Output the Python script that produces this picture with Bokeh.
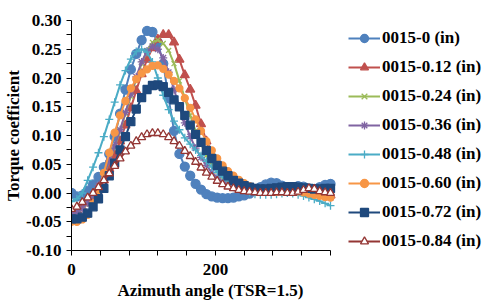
from bokeh.plotting import figure
from bokeh.models import (ColumnDataSource, FixedTicker, NumeralTickFormatter,
                          Legend, LegendItem, Range1d, Title)
from bokeh.embed import file_html
from bokeh.resources import INLINE

# Azimuth angle (deg)
azimuth = [i * 7.5 for i in range(49)]

series_names = ["0015-0 (in)", "0015-0.12 (in)", "0015-0.24 (in)", "0015-0.36 (in)",
                "0015-0.48 (in)", "0015-0.60 (in)", "0015-0.72 (in)", "0015-0.84 (in)"]

s_000 = [0.000, -0.006, -0.004, 0.004, 0.015, 0.028, 0.045, 0.068, 0.098, 0.138,
         0.180, 0.215, 0.242, 0.266, 0.282, 0.280, 0.262, 0.225, 0.165, 0.108,
         0.068, 0.046, 0.030, 0.016, 0.006, -0.002, -0.006, -0.008, -0.009, -0.009,
         -0.008, -0.006, -0.004, -0.001, 0.004, 0.010, 0.015, 0.018, 0.017, 0.013,
         0.010, 0.010, 0.012, 0.011, 0.008, 0.007, 0.010, 0.014, 0.016]
s_012 = [-0.030, -0.030, -0.026, -0.018, -0.008, 0.005, 0.022, 0.042, 0.065, 0.090,
         0.118, 0.148, 0.178, 0.207, 0.232, 0.252, 0.267, 0.275, 0.275, 0.262,
         0.232, 0.205, 0.180, 0.152, 0.120, 0.090, 0.065, 0.047, 0.034, 0.025,
         0.018, 0.012, 0.008, 0.005, 0.003, 0.002, 0.002, 0.002, 0.003, 0.004,
         0.005, 0.005, 0.004, 0.003, 0.002, 0.001, 0.000, -0.002, -0.004]
s_024 = [-0.035, -0.034, -0.028, -0.018, -0.005, 0.012, 0.032, 0.055, 0.080, 0.108,
         0.138, 0.168, 0.198, 0.225, 0.248, 0.262, 0.266, 0.260, 0.248, 0.225,
         0.195, 0.165, 0.135, 0.108, 0.085, 0.065, 0.050, 0.038, 0.028, 0.020,
         0.014, 0.010, 0.006, 0.004, 0.003, 0.002, 0.002, 0.003, 0.004, 0.005,
         0.005, 0.005, 0.004, 0.003, 0.001, 0.000, -0.002, -0.004, -0.006]
s_036 = [-0.035, -0.033, -0.027, -0.017, -0.004, 0.013, 0.033, 0.056, 0.082, 0.110,
         0.140, 0.172, 0.202, 0.228, 0.247, 0.255, 0.250, 0.235, 0.210, 0.180,
         0.150, 0.122, 0.098, 0.078, 0.062, 0.048, 0.036, 0.027, 0.020, 0.014,
         0.010, 0.007, 0.005, 0.003, 0.002, 0.002, 0.003, 0.004, 0.005, 0.006,
         0.006, 0.005, 0.004, 0.002, 0.000, -0.002, -0.004, -0.006, -0.008]
s_048 = [-0.015, -0.010, 0.000, 0.022, 0.045, 0.070, 0.098, 0.128, 0.158, 0.188,
         0.213, 0.233, 0.246, 0.250, 0.245, 0.228, 0.200, 0.170, 0.145, 0.125,
         0.110, 0.096, 0.085, 0.075, 0.065, 0.055, 0.045, 0.036, 0.028, 0.021,
         0.014, 0.009, 0.005, 0.001, -0.002, -0.003, -0.003, -0.003, -0.002, -0.001,
         0.000, -0.001, -0.003, -0.005, -0.008, -0.011, -0.014, -0.018, -0.022]
s_060 = [-0.050, -0.050, -0.046, -0.038, -0.018, 0.005, 0.035, 0.070, 0.105, 0.135,
         0.160, 0.182, 0.198, 0.208, 0.215, 0.221, 0.222, 0.216, 0.206, 0.195,
         0.182, 0.165, 0.148, 0.128, 0.108, 0.090, 0.074, 0.060, 0.048, 0.038,
         0.030, 0.023, 0.017, 0.012, 0.008, 0.005, 0.003, 0.002, 0.002, 0.003,
         0.004, 0.004, 0.003, 0.001, -0.001, -0.003, -0.005, -0.007, -0.008]
s_072 = [-0.045, -0.045, -0.042, -0.035, -0.024, -0.010, 0.008, 0.030, 0.052, 0.075,
         0.098, 0.124, 0.146, 0.166, 0.180, 0.187, 0.188, 0.185, 0.175, 0.162,
         0.150, 0.135, 0.118, 0.102, 0.088, 0.074, 0.060, 0.048, 0.038, 0.030,
         0.022, 0.017, 0.013, 0.010, 0.008, 0.007, 0.007, 0.008, 0.009, 0.010,
         0.011, 0.011, 0.010, 0.009, 0.008, 0.007, 0.007, 0.008, 0.008]
s_084 = [-0.028, -0.024, -0.016, -0.008, 0.000, 0.010, 0.022, 0.034, 0.047, 0.060,
         0.072, 0.082, 0.090, 0.097, 0.102, 0.104, 0.104, 0.102, 0.097, 0.090,
         0.082, 0.073, 0.064, 0.054, 0.044, 0.035, 0.028, 0.021, 0.015, 0.011,
         0.008, 0.005, 0.003, 0.002, 0.001, 0.000, 0.000, 0.000, 0.001, 0.001,
         0.000, 0.000, 0.002, 0.005, 0.008, 0.007, 0.003, 0.001, 0.000]

y_ticks = [-0.10, -0.05, 0.00, 0.05, 0.10, 0.15, 0.20, 0.25, 0.30]
y_minor = [-0.075, -0.025, 0.025, 0.075, 0.125, 0.175, 0.225, 0.275]
x_ticks = [0, 200]
x_minor = [40, 80, 120, 160, 240, 280, 320, 360]

FONT = "Liberation Serif"
FS = "17px"

# layout: plot area 259 px wide for 0..360 deg; frame extends right to host legend
W, H = 496, 302
LEFT, RIGHT, TOP = 71, 2, 20
FRAME_H = 230
BOTTOM = H - TOP - FRAME_H
frame_w = W - LEFT - RIGHT
x_end = 360 * frame_w / 259.0

p = figure(width=W, height=H, output_backend="svg", toolbar_location=None,
           x_range=Range1d(0, x_end), y_range=Range1d(-0.10, 0.30),
           min_border_left=LEFT, min_border_right=RIGHT, min_border_top=TOP,
           min_border_bottom=BOTTOM)
p.outline_line_color = None
p.xgrid.visible = False
p.ygrid.visible = False
p.background_fill_color = "white"
p.border_fill_color = "white"

for ax in (p.xaxis[0], p.yaxis[0]):
    ax.axis_line_color = "black"
    ax.axis_line_width = 1
    ax.major_tick_line_color = "black"
    ax.minor_tick_line_color = "black"
    ax.major_tick_in = 0
    ax.minor_tick_in = 0
    ax.major_tick_out = 5
    ax.minor_tick_out = 5
    ax.major_label_text_font = FONT
    ax.major_label_text_font_style = "bold"
    ax.major_label_text_font_size = FS
    ax.major_label_text_color = "black"
    ax.axis_label_text_font = FONT
    ax.axis_label_text_font_style = "bold"
    ax.axis_label_text_font_size = FS
    ax.axis_label_text_color = "black"

p.xaxis.bounds = (0, 360)
p.xaxis.ticker = FixedTicker(ticks=x_ticks, minor_ticks=x_minor)
p.yaxis.ticker = FixedTicker(ticks=y_ticks, minor_ticks=y_minor)
p.yaxis.formatter = NumeralTickFormatter(format="0.00")
p.yaxis.axis_label = "Torque coefficient"
p.xaxis.major_label_standoff = 8
p.yaxis.major_label_standoff = 5
p.yaxis.axis_label_standoff = 0

# x-axis title placed under the 0..360 span
xt = Title(text="Azimuth angle (TSR=1.5)", align="left", offset=46, standoff=2,
           text_font=FONT, text_font_style="bold", text_font_size=FS,
           text_color="black")
p.add_layout(xt, "below")

src = ColumnDataSource(dict(x=azimuth, a=s_000, b=s_012, c=s_024, d=s_036,
                            e=s_048, f=s_060, g=s_072, h=s_084))

styles = [
    ("a", "#4F81BD", "circle", 9, "#4F81BD"),
    ("b", "#C0504D", "triangle", 9, "#C0504D"),
    ("c", "#9BBB59", "x", 7, "#9BBB59"),
    ("d", "#8064A2", "asterisk", 8, "#8064A2"),
    ("e", "#4BACC6", "cross", 8, "#4BACC6"),
    ("f", "#F79646", "circle", 7, "#F79646"),
    ("g", "#1F497D", "square", 8, "#1F497D"),
    ("h", "#943634", "triangle", 8, "white"),
]

items = []
for (col, color, marker, size, fill), name in zip(styles, series_names):
    ln = p.line("x", col, source=src, line_color=color, line_width=2)
    sc = p.scatter("x", col, source=src, marker=marker, size=size,
                   line_color=color, fill_color=fill, line_width=1.3)
    items.append(LegendItem(label=name, renderers=[ln, sc]))

legend = Legend(items=items, location=(277, -1), orientation="vertical")
legend.label_text_font = FONT
legend.label_text_font_style = "bold"
legend.label_text_font_size = FS
legend.label_text_color = "black"
legend.glyph_width = 32
legend.glyph_height = 20
legend.label_height = 20
legend.label_standoff = 2
legend.spacing = 9
legend.padding = 0
legend.margin = 0
legend.border_line_color = None
legend.background_fill_alpha = 0
p.add_layout(legend, "center")

open("out.html", "w").write(file_html(p, INLINE))
